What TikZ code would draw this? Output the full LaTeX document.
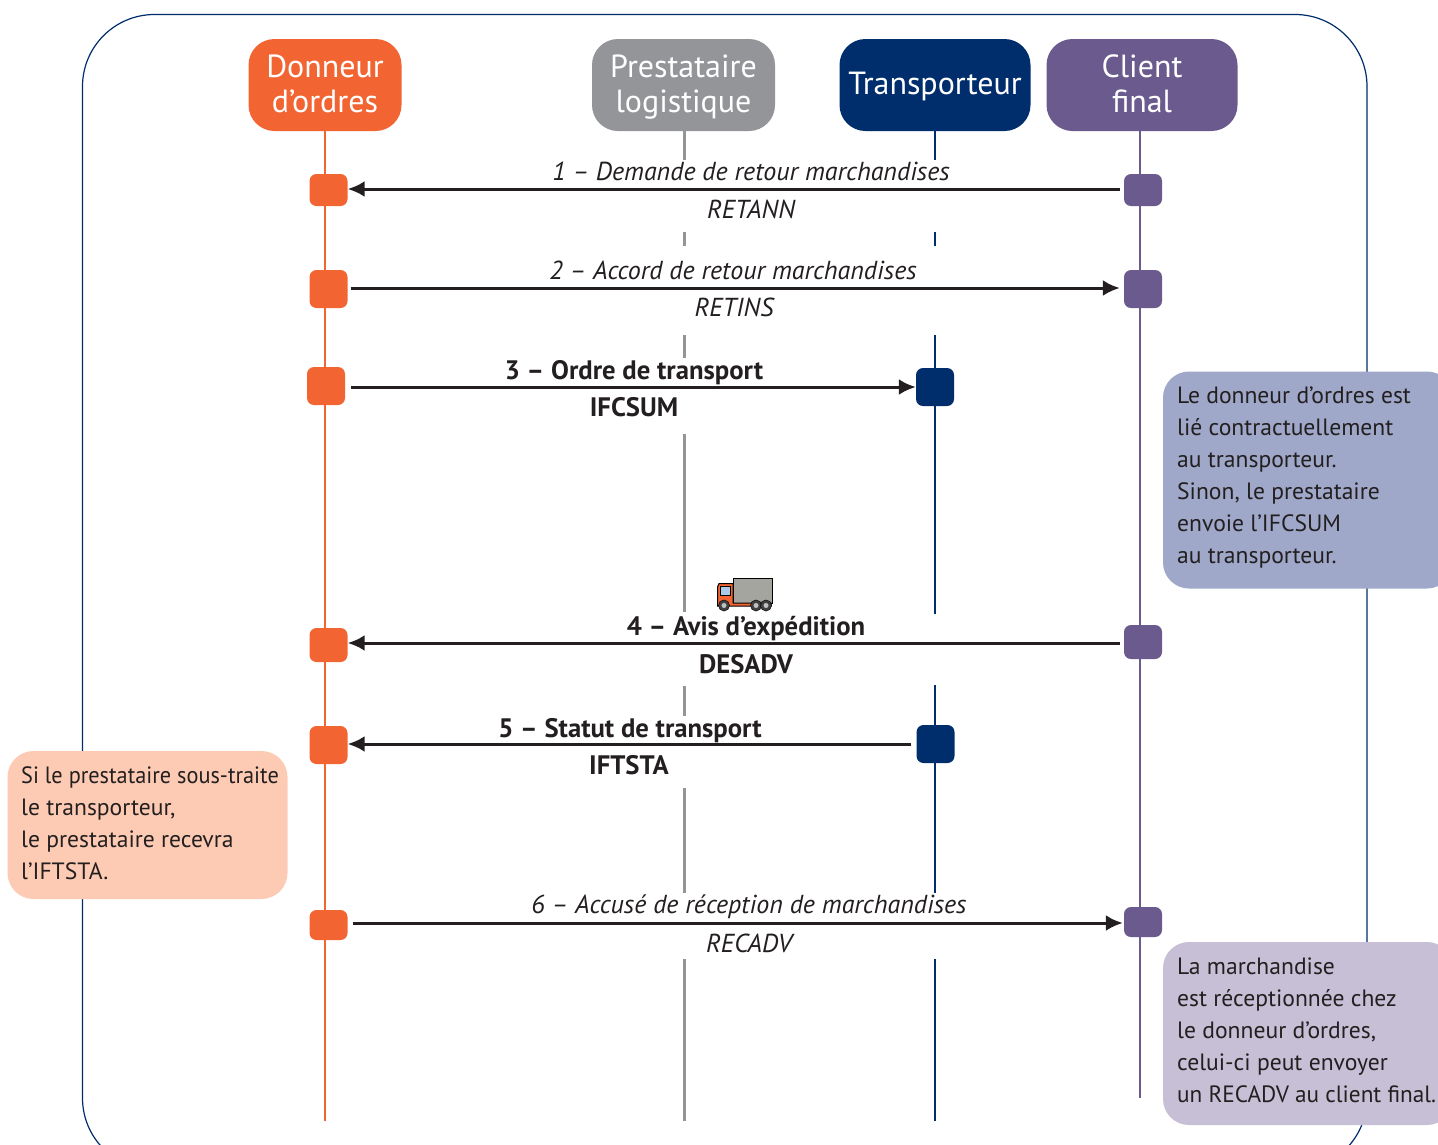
\documentclass[tikz,border=0pt]{standalone}
\usepackage{fontspec}
\usepackage{graphicx}
\setmainfont{PT Sans}
\definecolor{ordc}{HTML}{F26532}
\definecolor{grc}{HTML}{939598}
\definecolor{navc}{HTML}{002D6C}
\definecolor{purc}{HTML}{6B5A8E}
\definecolor{blnote}{HTML}{9FA8C9}
\definecolor{penote}{HTML}{FDCBB3}
\definecolor{lanote}{HTML}{C6BFD5}
\definecolor{txtc}{HTML}{231F20}
\definecolor{cargoc}{HTML}{A5A59F}
\definecolor{winc}{HTML}{A9CBE8}
\usetikzlibrary{arrows.meta}
\newcommand\topstr{\rule{0pt}{30.5pt}}
\newcommand\onestr{\rule{0pt}{28.5pt}}
\tikzset{
 x=1pt,y=-1pt,
 head/.style={rounded corners=26pt,text=white,align=center,font=\fontsize{32}{35}\selectfont,inner sep=0pt,minimum height=92pt,anchor=center},
 mbox/.style={rounded corners=7pt,minimum width=38pt,inner sep=0pt,anchor=center},
 lbl/.style={text=txtc,font=\fontsize{26}{30}\selectfont\itshape,inner sep=0pt,anchor=base},
 lblb/.style={text=txtc,font=\fontsize{26.7}{30}\selectfont\bfseries,inner sep=0pt,anchor=base},
 notetext/.style={text=txtc,font=\fontsize{23.6}{32}\selectfont,align=left,inner sep=0pt,anchor=north west},
 msg/.style={draw=txtc,line width=3pt,-{Latex[length=17pt,width=16pt]},shorten >=0pt},
 life/.style={line width=2.8pt},
}
\begin{document}
\begin{tikzpicture}
\useasboundingbox (0,0) rectangle (1438,1144);
\clip (0,0) rectangle (1438,1144);
\fill[white] (0,0) rectangle (1438,1144);
% frame
\draw[navc,line width=1.2pt,rounded corners=72pt] (82.5,14.5) rectangle (1367,1170);
% headers
\node[head,fill=ordc,minimum width=153pt] (don) at (325,85) {\topstr Donneur\strut\\d’ordres\strut};
\node[head,fill=grc,minimum width=183pt] (pre) at (683.5,85) {\topstr Prestataire\strut\\logistique\strut};
\node[head,fill=navc,minimum width=191pt] (tra) at (935,85) {\onestr Transporteur\strut};
\node[head,fill=purc,minimum width=191pt] (cli) at (1142,85) {\topstr Client\strut\\final\strut};
% lifeline ends
\coordinate (donend) at (325,1121);
\coordinate (cliend) at (1140,1098);
\draw[ordc,life] (don.south -| donend) -- (donend);
\draw[purc,life] (cli.south -| cliend) -- (cliend);
\foreach \a/\b in {131/160,232/246,335/358,434/612,686/716,788/893,959/1121}
  \draw[grc,life] (684.5,\a) -- (684.5,\b);
\foreach \a/\b in {131/160,232/246,335/614,685/893,959/1121}
  \draw[navc,life] (935,\a) -- (935,\b);
% activation boxes
\node[mbox,fill=ordc,minimum height=32pt] (d1) at (328.5,190) {};
\node[mbox,fill=purc,minimum height=32pt] (c1) at (1143,190) {};
\node[mbox,fill=ordc,minimum height=38pt] (d2) at (328.5,289) {};
\node[mbox,fill=purc,minimum height=38pt] (c2) at (1143,289) {};
\node[mbox,fill=ordc,minimum height=38pt] (d3) at (326,386) {};
\node[mbox,fill=navc,minimum height=38pt] (t3) at (935,387) {};
\node[mbox,fill=ordc,minimum height=34pt] (d4) at (328.5,645) {};
\node[mbox,fill=purc,minimum height=34pt] (c4) at (1143,642) {};
\node[mbox,fill=ordc,minimum height=38pt] (d5) at (328.5,745) {};
\node[mbox,fill=navc,minimum height=38pt] (t5) at (935.5,744) {};
\node[mbox,fill=ordc,minimum height=30pt] (d6) at (328.5,925) {};
\node[mbox,fill=purc,minimum height=30pt] (c6) at (1143,922) {};
% messages
\draw[msg,shorten <=4pt] (c1.west |- 0,189) -- (d1.east |- 0,189);
\draw[msg,shorten <=3pt,shorten >=4pt] (d2.east |- 0,288) -- (c2.west |- 0,288);
\draw[msg,shorten <=6pt] (d3.east |- 0,387) -- (t3.west);
\draw[msg,shorten <=4pt] (c4.west |- 0,643) -- (d4.east |- 0,643);
\draw[msg,shorten <=5pt] (t5.west) -- (d5.east |- 0,744);
\draw[msg,shorten <=5pt,shorten >=1pt] (d6.east |- 0,923) -- (c6.west |- 0,923);
% labels
\node[lbl] (l1) at (751,180) {1 – Demande de retour marchandises};
\node[lbl] (l1b) at (751,218) {RETANN};
\node[lbl] (l2) at (733,279) {2 – Accord de retour marchandises};
\node[lbl] (l2b) at (734,316) {RETINS};
\node[lblb] (l3) at (634,379) {3 – Ordre de transport};
\node[lblb] (l3b) at (634,416) {IFCSUM};
\node[lblb] (l4) at (746,635) {4 – Avis d’expédition};
\node[lblb] (l4b) at (746,673) {DESADV};
\node[lblb] (l5) at (630,737) {5 – Statut de transport};
\node[lblb] (l5b) at (629,774) {IFTSTA};
\node[lbl] (l6) at (749,913) {6 – Accusé de réception de marchandises};
\node[lbl] (l6b) at (749,952) {RECADV};
% truck
\begin{scope}[shift={(717,578)}]
 \filldraw[fill=cargoc,draw=black,line width=1pt] (16,0.5) rectangle (55.5,25);
 \filldraw[fill=ordc,draw=black,line width=1pt] (0.5,26) -- (0.5,9) -- (2,5.5) -- (16,5.5) -- (16,25) -- (54,25) -- (54,28) -- (0.5,28) -- cycle;
 \filldraw[fill=winc,draw=black,line width=.7pt] (3,8) -- (13,8) -- (13,17) -- (3,17) -- cycle;
 \foreach \wx in {7,39,49}{
  \filldraw[fill=black!75] (\wx,27.5) circle (5.6);
  \fill[grc!60!white] (\wx,27.5) circle (2.5);
 }
\end{scope}
% notes
\node[fill=blnote,rounded corners=26pt,minimum width=290pt,minimum height=217pt,inner sep=0pt] (n1) at (1308,480) {};
\node[notetext] (n1t) at (1177,387) {Le donneur d’ordres est\\lié contractuellement\\au transporteur.\\Sinon, le prestataire\\envoie l’IFCSUM\\au transporteur.};
\node[fill=penote,rounded corners=26pt,minimum width=280pt,minimum height=148pt,inner sep=0pt] (n2) at (147.5,825) {};
\node[notetext] (n2t) at (21,766) {\scalebox{.945}[1]{Si le prestataire sous-traite}\\le transporteur,\\le prestataire recevra\\l’IFTSTA.};
\node[fill=lanote,rounded corners=26pt,minimum width=290pt,minimum height=183pt,inner sep=0pt] (n3) at (1308,1033.5) {};
\node[notetext] (n3t) at (1177,958) {La marchandise\\est réceptionnée chez\\le donneur d’ordres,\\celui-ci peut envoyer\\\scalebox{.985}[1]{un RECADV au client final.}};
\end{tikzpicture}
\end{document}
